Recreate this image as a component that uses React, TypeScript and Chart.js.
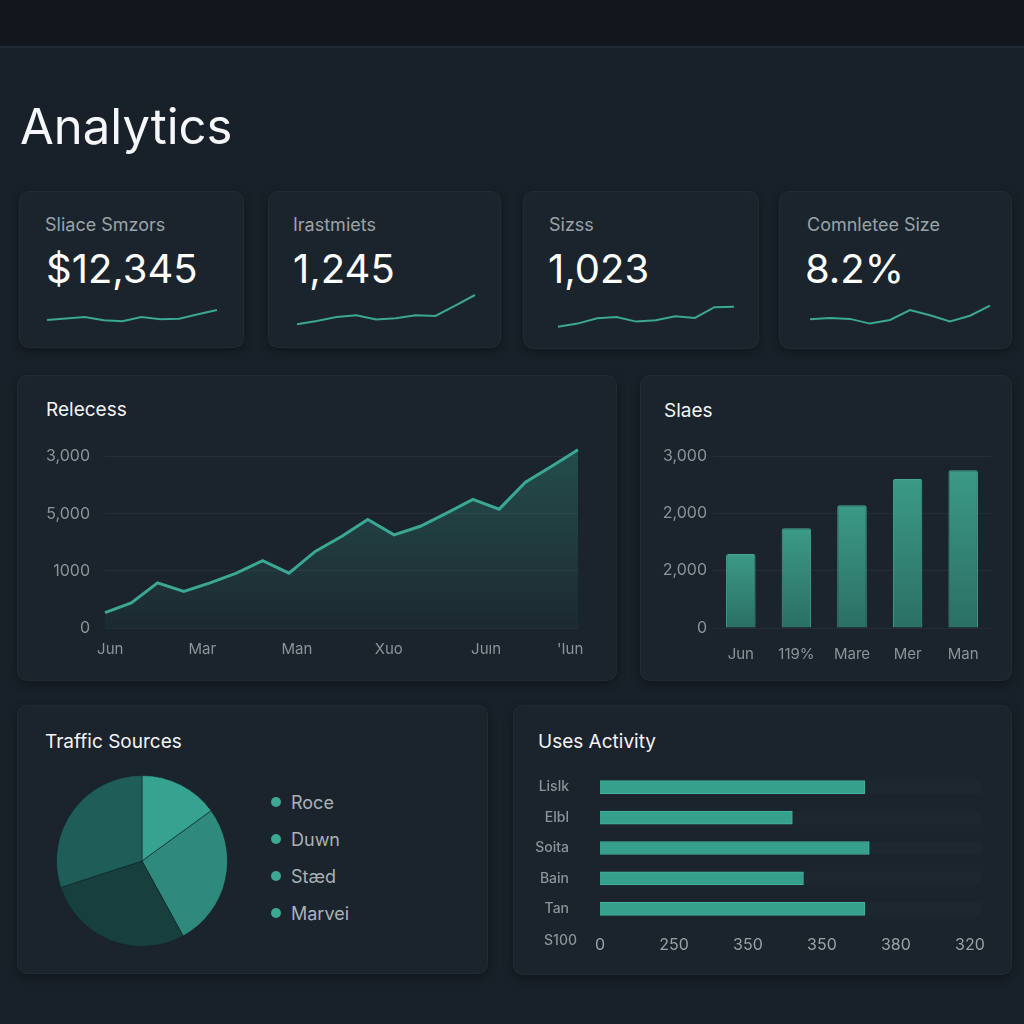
import React, { useEffect, useRef } from "react";
import { Chart, registerables } from "chart.js";

Chart.register(...registerables);

const FONT = "Inter, 'Noto Sans', sans-serif";
const TEAL = "#3aa893";
const GRID = "#252e37";
const TICK = "#8b949a";
const CARD_BG = "#1b232c";

// KPI tiles
const kpiTitles = ["Sliace Smzors", "Irastmiets", "Sizss", "Comnletee Size"];
const kpiFigures = ["$12,345", "1,245", "1,023", "8.2%"];
const trendSales = [10, 11.6, 13.1, 9.8, 8.8, 12.9, 10.7, 11.3, 15.7, 20];
const trendInvest = [5.7, 9.1, 13, 14.7, 10.5, 11.7, 14.7, 14.1, 24.4, 35];
const trendSize = [3.3, 6.4, 11.8, 13, 8.4, 9.7, 13.8, 12.1, 22.8, 23.3];
const trendComplete = [10.7, 11.9, 11.1, 6.4, 10, 20, 14.7, 8.6, 14.3, 24.3];

// Revenue line
const revenueSeries = [270, 440, 790, 640, 790, 960, 1180, 960, 1340, 1600, 1900, 1630, 1780, 2010, 2250, 2080, 2550, 2830, 3120];
const revenueTickValues = [0, 1000, 2000, 3000];
const revenueTickLabels = ["0", "1000", "5,000", "3,000"];
const revenueMonthAt = [0.2, 3.7, 7.3, 10.8, 14.5, 17.7];
const revenueMonths = ["Jun", "Mar", "Man", "Xuo", "Juın", "'Iun"];

// Sales bars
const salesMonths = ["Jun", "119%", "Mare", "Mer", "Man"];
const salesValues = [1290, 1740, 2140, 2600, 2750];
const salesTickValues = [0, 1000, 2000, 3000];
const salesTickLabels = ["0", "2,000", "2,000", "3,000"];

// Traffic pie
const trafficSources = ["Roce", "Duwn", "Stæd", "Marvei"];
const trafficShares = [15, 27, 28, 30];
const trafficColors = ["#36a390", "#2f8a7d", "#173f3d", "#1f5e58"];

// User activity
const activityUsers = ["Lislk", "Elbl", "Soita", "Bain", "Tan"];
const activityValues = [358, 260, 364, 275, 358];
const activityCap = 515;
const activityTickValues = [0, 100, 200, 300, 400, 500];
const activityTickLabels = ["0", "250", "350", "350", "380", "320"];
const activityFooter = "S100";

type Box = { left: number; top: number; width: number; height: number };

function ChartCanvas({ box, make }: { box: Box; make: () => any }) {
  const ref = useRef<HTMLCanvasElement>(null);
  useEffect(() => {
    const chart = new Chart(ref.current as HTMLCanvasElement, make());
    return () => chart.destroy();
  }, []);
  return (
    <canvas
      ref={ref}
      width={box.width}
      height={box.height}
      style={{ position: "absolute", left: box.left, top: box.top, width: box.width, height: box.height }}
    />
  );
}

const noPlugins = { legend: { display: false }, tooltip: { enabled: false } };

// fixed axis sizes so the plot area lands where the card layout expects it
const fixWidth = (w: number) => (s: any) => {
  s.width = w;
  s.paddingTop = 0;
  s.paddingBottom = 0;
};
const fixHeight = (h: number) => (s: any) => {
  s.height = h;
  s.paddingLeft = 0;
  s.paddingRight = 0;
};

function sparkConfig(values: number[]) {
  return {
    type: "line",
    data: {
      labels: values.map((_, i) => String(i)),
      datasets: [
        { data: values, borderColor: TEAL, borderWidth: 2, pointRadius: 0, tension: 0, fill: false, clip: false },
      ],
    },
    options: {
      responsive: false,
      animation: false,
      events: [],
      layout: { padding: { top: 4, bottom: 4, left: 2, right: 2 } },
      plugins: noPlugins,
      scales: { x: { display: false }, y: { display: false, min: 0, max: 40 } },
    },
  };
}

function revenueConfig() {
  return {
    type: "line",
    data: {
      datasets: [
        {
          data: revenueSeries.map((v, i) => ({ x: i, y: v })),
          borderColor: TEAL,
          borderWidth: 3,
          pointRadius: 0,
          tension: 0,
          fill: "origin",
          clip: false,
          backgroundColor: (c: any) => {
            const { ctx, chartArea } = c.chart;
            if (!chartArea) return "rgba(58,168,147,0.15)";
            const g = ctx.createLinearGradient(0, chartArea.top, 0, chartArea.bottom);
            g.addColorStop(0, "rgba(58,168,147,0.32)");
            g.addColorStop(1, "rgba(58,168,147,0.05)");
            return g;
          },
        },
      ],
    },
    options: {
      responsive: false,
      animation: false,
      events: [],
      layout: { padding: { top: 18, right: 22, left: 0, bottom: 0 } },
      plugins: noPlugins,
      scales: {
        x: {
          type: "linear",
          min: 0,
          max: revenueSeries.length - 1,
          grid: { display: false },
          border: { display: false },
          afterBuildTicks: (s: any) => {
            s.ticks = revenueMonthAt.map((v) => ({ value: v }));
          },
          afterFit: fixHeight(42),
          ticks: {
            color: TICK,
            padding: 4,
            maxRotation: 0,
            font: { family: FONT, size: 15 },
            callback: (_v: any, i: number) => revenueMonths[i],
          },
        },
        y: {
          min: 0,
          max: 3150,
          grid: { color: GRID, lineWidth: 1, drawTicks: false },
          border: { display: false },
          afterBuildTicks: (s: any) => {
            s.ticks = revenueTickValues.map((v) => ({ value: v }));
          },
          afterFit: fixWidth(75),
          ticks: {
            color: TICK,
            padding: 15,
            font: { family: FONT, size: 16 },
            callback: (_v: any, i: number) => revenueTickLabels[i],
          },
        },
      },
    },
  };
}

function salesConfig() {
  return {
    type: "bar",
    data: {
      labels: salesMonths,
      datasets: [
        {
          data: salesValues,
          borderRadius: 2,
          borderSkipped: "bottom",
          borderWidth: 1,
          borderColor: "#44a893",
          categoryPercentage: 1,
          barPercentage: 0.53,
          backgroundColor: (c: any) => {
            const chart = c.chart;
            const area = chart.chartArea;
            if (!area || c.raw == null) return "#358a7a";
            const top = chart.scales.y.getPixelForValue(c.raw);
            const g = chart.ctx.createLinearGradient(0, top, 0, area.bottom);
            g.addColorStop(0, "#3c9a87");
            g.addColorStop(1, "#2b6f64");
            return g;
          },
        },
      ],
    },
    options: {
      responsive: false,
      animation: false,
      events: [],
      layout: { padding: { top: 26, right: 9, left: 0, bottom: 0 } },
      plugins: noPlugins,
      scales: {
        x: {
          grid: { display: false },
          border: { display: false },
          afterFit: fixHeight(42),
          ticks: { color: TICK, padding: 9, maxRotation: 0, font: { family: FONT, size: 15 } },
        },
        y: {
          min: 0,
          max: 3000,
          grid: { color: GRID, lineWidth: 1, drawTicks: false },
          border: { display: false },
          afterBuildTicks: (s: any) => {
            s.ticks = salesTickValues.map((v) => ({ value: v }));
          },
          afterFit: fixWidth(63),
          ticks: {
            color: TICK,
            padding: 6,
            font: { family: FONT, size: 16 },
            callback: (_v: any, i: number) => salesTickLabels[i],
          },
        },
      },
    },
  };
}

function trafficConfig() {
  return {
    type: "pie",
    data: {
      labels: trafficSources,
      datasets: [
        {
          data: trafficShares,
          backgroundColor: trafficColors,
          borderColor: "rgba(18,30,34,0.55)",
          borderWidth: 1,
        },
      ],
    },
    options: {
      responsive: false,
      animation: false,
      events: [],
      layout: { padding: 4 },
      plugins: noPlugins,
    },
  };
}

function activityConfig() {
  return {
    type: "bar",
    data: {
      labels: activityUsers,
      datasets: [
        {
          data: activityValues,
          backgroundColor: "#36a08d",
          borderColor: "#45b39d",
          borderWidth: 1,
          barThickness: 13,
          grouped: false,
          order: 1,
        },
        {
          data: activityUsers.map(() => activityCap),
          backgroundColor: "#1e2730",
          barThickness: 13,
          grouped: false,
          order: 2,
        },
      ],
    },
    options: {
      indexAxis: "y",
      responsive: false,
      animation: false,
      events: [],
      layout: { padding: { top: 7, right: 19, left: 0, bottom: 0 } },
      plugins: noPlugins,
      scales: {
        x: {
          min: 0,
          max: activityCap,
          grid: { display: false },
          border: { display: false },
          afterBuildTicks: (s: any) => {
            s.ticks = activityTickValues.map((v) => ({ value: v }));
          },
          afterFit: fixHeight(41),
          ticks: {
            color: "#9aa2a8",
            padding: 4,
            maxRotation: 0,
            font: { family: FONT, size: 16 },
            callback: (_v: any, i: number) => activityTickLabels[i],
          },
        },
        y: {
          grid: { display: false },
          border: { display: false },
          afterFit: fixWidth(80),
          ticks: { color: TICK, padding: 23, font: { family: FONT, size: 14, weight: "500" } },
        },
      },
    },
  };
}

const cardStyle = (b: Box): React.CSSProperties => ({
  position: "absolute",
  left: b.left,
  top: b.top,
  width: b.width,
  height: b.height,
  background: CARD_BG,
  borderRadius: 10,
  border: "1px solid rgba(255,255,255,0.035)",
  boxShadow: "0 3px 10px rgba(0,0,0,0.35)",
  boxSizing: "border-box",
});

function Text({
  x,
  cy,
  size,
  color,
  children,
  weight = 400,
  align = "left",
}: {
  x: number;
  cy: number;
  size: number;
  color: string;
  children: React.ReactNode;
  weight?: number;
  align?: "left" | "right";
}) {
  const lh = Math.round(size * 1.25);
  const style: React.CSSProperties = {
    position: "absolute",
    top: cy - lh / 2,
    fontFamily: FONT,
    fontSize: size,
    lineHeight: `${lh}px`,
    color,
    fontWeight: weight,
    whiteSpace: "nowrap",
  };
  if (align === "right") style.right = 1024 - x;
  else style.left = x;
  return <div style={style}>{children}</div>;
}

const kpiCards: Box[] = [
  { left: 19, top: 191, width: 225, height: 157 },
  { left: 268, top: 191, width: 233, height: 157 },
  { left: 523, top: 191, width: 236, height: 158 },
  { left: 779, top: 191, width: 233, height: 158 },
];
const kpiTextX = [45, 293, 549, 807];
const kpiValueX = [46, 293, 548, 805];
const kpiTrends = [trendSales, trendInvest, trendSize, trendComplete];
const sparkBoxes: Box[] = [
  { left: 45, top: 286, width: 174, height: 48 },
  { left: 295, top: 286, width: 182, height: 48 },
  { left: 556, top: 286, width: 180, height: 48 },
  { left: 808, top: 286, width: 184, height: 48 },
];

export default function App() {
  return (
    <div
      style={{
        position: "fixed",
        left: 0,
        top: 0,
        width: 1024,
        height: 1024,
        overflow: "hidden",
        background: "#182029",
        fontFamily: FONT,
      }}
    >
      <div style={{ position: "absolute", left: 0, top: 0, width: 1024, height: 46, background: "#12171e" }} />
      <div style={{ position: "absolute", left: 0, top: 46, width: 1024, height: 2, background: "#212a33" }} />

      <Text x={20} cy={126} size={49} color="#f5f7f8">
        Analytics
      </Text>

      {kpiCards.map((b, i) => (
        <div key={"card" + i} style={cardStyle(b)} />
      ))}
      {kpiTitles.map((t, i) => (
        <Text key={"kt" + i} x={kpiTextX[i]} cy={224} size={18} color="#9aa3a9">
          {t}
        </Text>
      ))}
      {kpiFigures.map((t, i) => (
        <Text key={"kv" + i} x={kpiValueX[i]} cy={269} size={40} color="#ffffff">
          {t}
        </Text>
      ))}
      {kpiTrends.map((v, i) => (
        <ChartCanvas key={"sp" + i} box={sparkBoxes[i]} make={() => sparkConfig(v)} />
      ))}

      <div style={cardStyle({ left: 17, top: 375, width: 600, height: 306 })} />
      <Text x={46} cy={410} size={19} color="#f2f4f5">
        Relecess
      </Text>
      <ChartCanvas box={{ left: 30, top: 430, width: 570, height: 240 }} make={revenueConfig} />

      <div style={cardStyle({ left: 640, top: 375, width: 372, height: 306 })} />
      <Text x={664} cy={411} size={19} color="#f2f4f5">
        Slaes
      </Text>
      <ChartCanvas box={{ left: 650, top: 430, width: 350, height: 240 }} make={salesConfig} />

      <div style={cardStyle({ left: 17, top: 705, width: 471, height: 269 })} />
      <Text x={45} cy={742} size={19} color="#f2f4f5">
        Traffic Sources
      </Text>
      <ChartCanvas box={{ left: 52, top: 771, width: 180, height: 180 }} make={trafficConfig} />
      {trafficSources.map((s, i) => (
        <React.Fragment key={"lg" + i}>
          <div
            style={{
              position: "absolute",
              left: 271,
              top: 797 + i * 37,
              width: 10,
              height: 10,
              borderRadius: 5,
              background: TEAL,
            }}
          />
          <Text x={291} cy={802 + i * 37} size={18} color="#a9b2b7">
            {s}
          </Text>
        </React.Fragment>
      ))}

      <div style={cardStyle({ left: 513, top: 705, width: 499, height: 270 })} />
      <Text x={538} cy={742} size={19} color="#f2f4f5">
        Uses Activity
      </Text>
      <ChartCanvas box={{ left: 520, top: 765, width: 480, height: 200 }} make={activityConfig} />
      <Text x={577} cy={940} size={14} weight={500} color={TICK} align="right">
        {activityFooter}
      </Text>
    </div>
  );
}
